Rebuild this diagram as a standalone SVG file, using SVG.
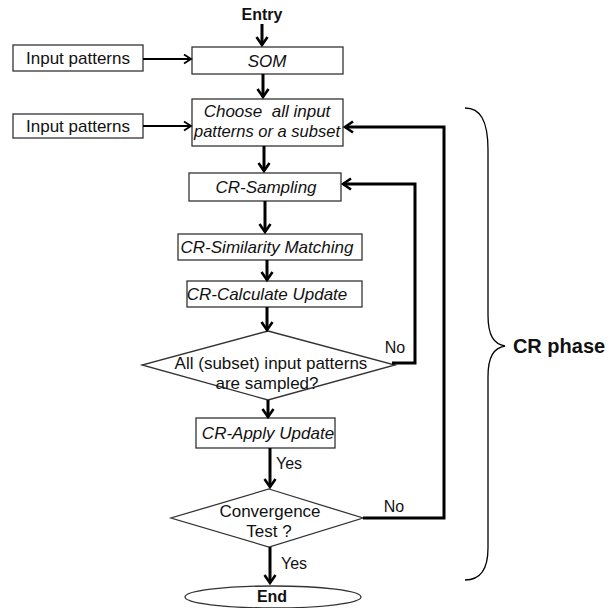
<svg xmlns="http://www.w3.org/2000/svg" width="609" height="608" viewBox="0 0 609 608">
<defs>
<marker id="ah" markerUnits="userSpaceOnUse" markerWidth="16" markerHeight="16" refX="10" refY="7" orient="auto">
<path d="M2,1.5 L10,7 L2,12.5" fill="none" stroke="#000" stroke-width="2.6"/>
</marker>
<marker id="ahs" markerUnits="userSpaceOnUse" markerWidth="14" markerHeight="14" refX="9" refY="6" orient="auto">
<path d="M2,1.5 L9,6 L2,10.5" fill="none" stroke="#000" stroke-width="1.8"/>
</marker>
</defs>
<style>
.box{fill:#fff;stroke:#333;stroke-width:1.3}
.t{font-family:"Liberation Sans",Arial,sans-serif;font-size:17px;fill:#111;text-anchor:middle}
.i{font-style:italic}
.b{font-weight:bold;font-size:16px}
.lbl{font-size:16px}
.ph{font-weight:bold;font-size:20px}
.pre{white-space:pre}
.c{fill:none;stroke:#000;stroke-width:3}
.cs{fill:none;stroke:#000;stroke-width:1.8}
</style>
<g id="entry"><text class="t b" x="262" y="20">Entry</text></g>
<g id="input1"><rect class="box" x="13" y="45" width="130" height="26"/><text class="t" x="78" y="64">Input patterns</text></g>
<g id="som"><rect class="box" x="192" y="47" width="151" height="27"/><text class="t i" x="267" y="67">SOM</text></g>
<g id="input2"><rect class="box" x="13" y="114" width="130" height="24"/><text class="t" x="78" y="132">Input patterns</text></g>
<g id="choose"><rect class="box" x="192" y="99" width="151" height="47"/><text class="t i pre" x="267" y="117">Choose  all input</text><text class="t i" x="267" y="137" textLength="146" lengthAdjust="spacingAndGlyphs">patterns or a subset</text></g>
<g id="sampling"><rect class="box" x="189" y="173" width="152" height="28"/><text class="t i" x="266" y="193">CR-Sampling</text></g>
<g id="similarity"><rect class="box" x="178" y="234" width="184" height="26"/><text class="t i" x="267" y="253">CR-Similarity Matching</text></g>
<g id="calculate"><rect class="box" x="187" y="281" width="175" height="26"/><text class="t i" x="267" y="300">CR-Calculate Update</text></g>
<g id="sampled"><polygon class="box" points="268,331 395,365 268,400 142,365"/><text class="t" x="271" y="369">All (subset) input patterns</text><text class="t" x="267" y="389">are sampled?</text></g>
<g id="apply"><rect class="box" x="196" y="418" width="139" height="30"/><text class="t i" x="268" y="439">CR-Apply Update</text></g>
<g id="convergence"><polygon class="box" points="269,489 363,518 269,547 171,518"/><text class="t" x="270" y="517">Convergence</text><text class="t" x="269" y="537">Test ?</text></g>
<g id="end"><ellipse class="box" cx="273" cy="597" rx="88" ry="11"/><text class="t b" x="272" y="602">End</text></g>
<g id="brace"><path d="M465,108 C480,108 488,120 488,150 L488,315 C488,336 494,344 505,346 C494,348 488,356 488,377 L488,548 C488,570 480,580 465,580" fill="none" stroke="#000" stroke-width="1.3"/><text class="t ph" x="559" y="353">CR phase</text></g>
<g id="connectors">
<line class="c" x1="262" y1="24" x2="262" y2="45" marker-end="url(#ah)"/>
<line class="cs" x1="143" y1="59" x2="191" y2="59" marker-end="url(#ahs)"/>
<line class="c" x1="263" y1="74" x2="263" y2="97" marker-end="url(#ah)"/>
<line class="cs" x1="143" y1="126" x2="191" y2="126" marker-end="url(#ahs)"/>
<line class="c" x1="264" y1="146" x2="264" y2="171" marker-end="url(#ah)"/>
<line class="c" x1="265" y1="201" x2="265" y2="232" marker-end="url(#ah)"/>
<line class="c" x1="267" y1="260" x2="267" y2="280" marker-end="url(#ah)"/>
<line class="c" x1="267" y1="307" x2="267" y2="330" marker-end="url(#ah)"/>
<line class="c" x1="268" y1="400" x2="268" y2="417" marker-end="url(#ah)"/>
<line class="c" x1="270" y1="448" x2="270" y2="487" marker-end="url(#ah)"/>
<line class="c" x1="270" y1="547" x2="270" y2="583" marker-end="url(#ah)"/>
<polyline class="c" points="392,363 415,363 415,184 343,184" marker-end="url(#ah)"/>
<polyline class="c" points="363,518 444,518 444,127 345,127" marker-end="url(#ah)"/>
<text class="t lbl" x="395" y="353">No</text>
<text class="t lbl" x="289" y="469">Yes</text>
<text class="t lbl" x="394" y="512">No</text>
<text class="t lbl" x="294" y="569">Yes</text>
</g>
</svg>
